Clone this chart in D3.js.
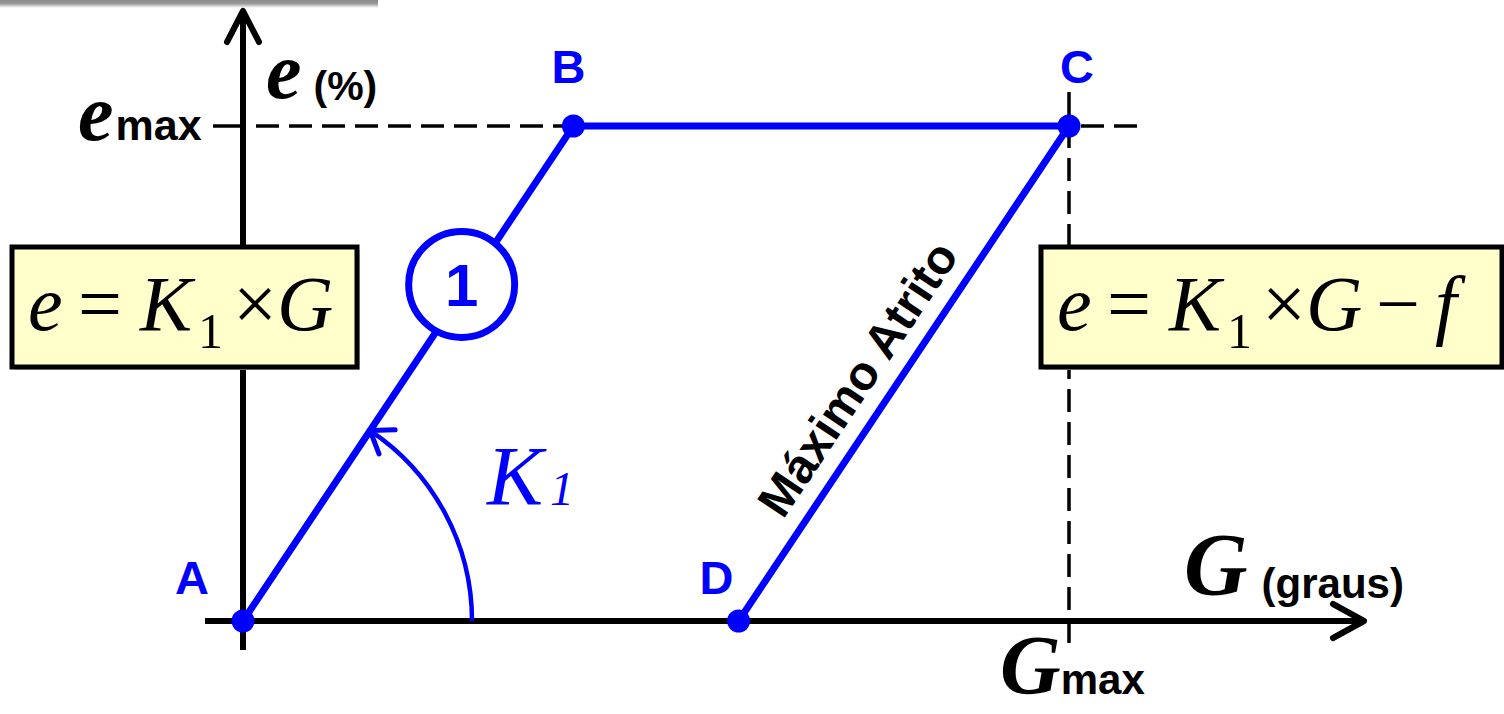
<!DOCTYPE html>
<html>
<head>
<meta charset="utf-8">
<script src="https://d3js.org/d3.v7.min.js"></script>
<style>
  body { margin: 0; background: #fff; }
  svg { display: block; }
</style>
</head>
<body>
<svg id="drawing_region"></svg>
<script>
// ciclo de histerese: G em % de Gmax, e em % de emax
const point_names = ["A", "B", "C", "D"];
const point_g = [0, 40, 100, 60];
const point_e = [0, 100, 100, 0];

const g_domain = [0, 100];
const e_domain = [0, 100];
const g_max = 100;
const e_max = 100;

// posição do marcador "1" ao longo de AB (fração do segmento)
const marker_t = 0.68;

const x_title = ["G", "(graus)"];
const y_title = ["e", "(%)"];
const x_tick = ["G", "max"];
const y_tick = ["e", "max"];
const friction_label = "Máximo Atrito";
const slope_label = ["K", "1"];

const left_formula = [["e", "i"], ["=", "n"], ["K", "i"], ["1", "s"], ["×", "n"], ["G", "i"]];
const right_formula = [["e", "i"], ["=", "n"], ["K", "i"], ["1", "s"], ["×", "n"], ["G", "i"], ["−", "n"], ["f", "i"]];

const config = {
    width: 1504,
    height: 714,
    x_range: [243, 1069],
    y_range: [621, 126]
};

const SERIF = "'Liberation Serif', 'Times New Roman', serif";
const SANS = "'Liberation Sans', Arial, sans-serif";
const BLUE = "#0000ff";

const points = point_names.map((n, i) => ({ name: n, g: point_g[i], e: point_e[i] }));

const svg = d3.select('#drawing_region')
    .attr('width', config.width)
    .attr('height', config.height);

const xscale = d3.scaleLinear().domain(g_domain).range(config.x_range);
const yscale = d3.scaleLinear().domain(e_domain).range(config.y_range);

const x0 = xscale(0), y0 = yscale(0);

// faixa cinza no topo (sombra)
const defs = svg.append('defs');
const grad = defs.append('linearGradient').attr('id', 'topshade')
    .attr('x1', 0).attr('y1', 0).attr('x2', 0).attr('y2', 1);
grad.append('stop').attr('offset', '0%').attr('stop-color', '#8a8a8a');
grad.append('stop').attr('offset', '45%').attr('stop-color', '#9a9a9a');
grad.append('stop').attr('offset', '100%').attr('stop-color', '#ffffff');
svg.append('rect').attr('x', 0).attr('y', 0).attr('width', 378).attr('height', 8)
    .attr('fill', 'url(#topshade)');

// linhas tracejadas de emax e Gmax
svg.append('line')
    .attr('x1', 213).attr('x2', x0)
    .attr('y1', yscale(e_max)).attr('y2', yscale(e_max))
    .attr('stroke', '#000').attr('stroke-width', 3.5);
svg.append('line')
    .attr('x1', 256).attr('x2', 1143)
    .attr('y1', yscale(e_max)).attr('y2', yscale(e_max))
    .attr('stroke', '#000').attr('stroke-width', 3.5)
    .attr('stroke-dasharray', '23,10');
svg.append('line')
    .attr('x1', xscale(g_max)).attr('x2', xscale(g_max))
    .attr('y1', 92).attr('y2', 650)
    .attr('stroke', '#000').attr('stroke-width', 3.5)
    .attr('stroke-dasharray', '23,10');

// eixos
const axis = svg.append('g').attr('stroke', '#000').attr('fill', 'none')
    .attr('stroke-width', 6).attr('stroke-linecap', 'round').attr('stroke-linejoin', 'round');
axis.append('line').attr('x1', 205).attr('x2', 1360).attr('y1', y0).attr('y2', y0)
    .attr('stroke-linecap', 'butt');
axis.append('path').attr('d', `M1333,${y0 - 17} L1364,${y0} L1333,${y0 + 17}`);
axis.append('line').attr('x1', x0).attr('x2', x0).attr('y1', 650).attr('y2', 14)
    .attr('stroke-linecap', 'butt');
axis.append('path').attr('d', `M${x0 - 16},42 L${x0},11 L${x0 + 16},42`);

// caixas das equações
function formula_box(x, y, w, h, tokens) {
    const g = svg.append('g');
    g.append('rect').attr('x', x + 3).attr('y', y + 3).attr('width', w).attr('height', h)
        .attr('fill', '#c8c8c8');
    g.append('rect').attr('x', x).attr('y', y).attr('width', w).attr('height', h)
        .attr('fill', '#ffffcc').attr('stroke', '#000').attr('stroke-width', 5);
    const offsets = [16, 66, 128, 186, 221, 265, 335, 394];
    const t = g.append('text').attr('font-family', SERIF).attr('fill', '#000');
    tokens.forEach((tk, i) => {
        const sub = tk[1] === 's';
        t.append('tspan')
            .attr('x', x + offsets[i])
            .attr('y', y + (sub ? 101 : 83))
            .attr('font-size', sub ? 50 : 78)
            .attr('font-style', tk[1] === 'i' ? 'italic' : 'normal')
            .text(tk[0]);
    });
}
formula_box(12, 247, 345, 120, left_formula);
formula_box(1041, 247, 461, 120, right_formula);

// arco do ângulo K1
const A = points[0], B = points[1], C = points[2], D = points[3];
const r = 229;
const theta = Math.atan2(yscale(A.e) - yscale(B.e), xscale(B.g) - xscale(A.g));
const ax = x0 + r * Math.cos(theta), ay = y0 - r * Math.sin(theta);
svg.append('path')
    .attr('d', `M${x0 + r},${y0} A${r},${r} 0 0 0 ${ax},${ay}`)
    .attr('fill', 'none').attr('stroke', BLUE).attr('stroke-width', 4.5);
const back = [Math.sin(theta), Math.cos(theta)];
const head = [0.62, -0.62].map(a => {
    const c = Math.cos(a), s = Math.sin(a);
    return [ax + 25 * (back[0] * c - back[1] * s), ay + 25 * (back[0] * s + back[1] * c)];
});
svg.append('path')
    .attr('d', `M${head[0][0]},${head[0][1]} L${ax},${ay} L${head[1][0]},${head[1][1]}`)
    .attr('fill', 'none').attr('stroke', BLUE).attr('stroke-width', 5)
    .attr('stroke-linecap', 'round').attr('stroke-linejoin', 'round');

const k1 = svg.append('text').attr('fill', BLUE).attr('font-family', SERIF).attr('font-style', 'italic');
k1.append('tspan').attr('x', 487).attr('y', 505).attr('font-size', 84).text(slope_label[0]);
k1.append('tspan').attr('x', 550).attr('y', 505).attr('font-size', 48).text(slope_label[1]);

// ciclo A-B-C-D
const line = d3.line().x(d => xscale(d.g)).y(d => yscale(d.e));
svg.append('path').datum(points)
    .attr('d', line)
    .attr('fill', 'none').attr('stroke', BLUE).attr('stroke-width', 7);

// marcador "1"
const mx = xscale(A.g + (B.g - A.g) * marker_t) - 6;
const my = yscale(A.e + (B.e - A.e) * marker_t);
svg.append('circle').attr('cx', mx).attr('cy', my).attr('r', 53)
    .attr('fill', '#fff').attr('stroke', BLUE).attr('stroke-width', 7);
svg.append('text').attr('x', mx).attr('y', my + 22)
    .attr('text-anchor', 'middle').attr('fill', BLUE)
    .attr('font-family', SANS).attr('font-weight', 'bold').attr('font-size', 60)
    .text('1');

// pontos
svg.selectAll('circle.pt').data(points).enter()
    .append('circle').attr('class', 'pt')
    .attr('cx', d => xscale(d.g)).attr('cy', d => yscale(d.e))
    .attr('r', 11.5).attr('fill', BLUE);

const label_pos = { A: [-51, -27], B: [-5, -43], C: [8, -43], D: [-22, -27] };
svg.selectAll('text.pt').data(points).enter()
    .append('text').attr('class', 'pt')
    .attr('x', d => xscale(d.g) + label_pos[d.name][0])
    .attr('y', d => yscale(d.e) + label_pos[d.name][1])
    .attr('text-anchor', 'middle').attr('fill', BLUE)
    .attr('font-family', SANS).attr('font-weight', 'bold').attr('font-size', 47)
    .text(d => d.name);

// texto "Máximo Atrito" ao longo de CD
const cx = (xscale(C.g) + xscale(D.g)) / 2, cy = (yscale(C.e) + yscale(D.e)) / 2;
const ang = Math.atan2(yscale(C.e) - yscale(D.e), xscale(C.g) - xscale(D.g)) * 180 / Math.PI;
svg.append('text')
    .attr('transform', `translate(${cx},${cy}) rotate(${ang})`)
    .attr('x', -30).attr('y', -19)
    .attr('text-anchor', 'middle').attr('fill', '#000')
    .attr('font-family', SANS).attr('font-weight', 'bold').attr('font-size', 48)
    .text(friction_label);

// títulos dos eixos e marcas max
function mixed_label(x, y, parts, big, small, gap, dy) {
    const t = svg.append('text').attr('x', x).attr('y', y).attr('fill', '#000');
    t.append('tspan').attr('font-family', SERIF).attr('font-style', 'italic')
        .attr('font-weight', 'bold').attr('font-size', big).text(parts[0]);
    t.append('tspan').attr('font-family', SANS).attr('font-weight', 'bold')
        .attr('font-size', small).attr('dx', gap).attr('dy', dy).text(parts[1]);
    return t;
}
mixed_label(266, 98, y_title, 80, 41, 12, 2);
mixed_label(78, 140, y_tick, 80, 43, 2, 0);
mixed_label(1184, 594, x_title, 88, 42, 14, 4);
mixed_label(1000, 694, x_tick, 84, 42, 0, 0);
</script>
</body>
</html>
